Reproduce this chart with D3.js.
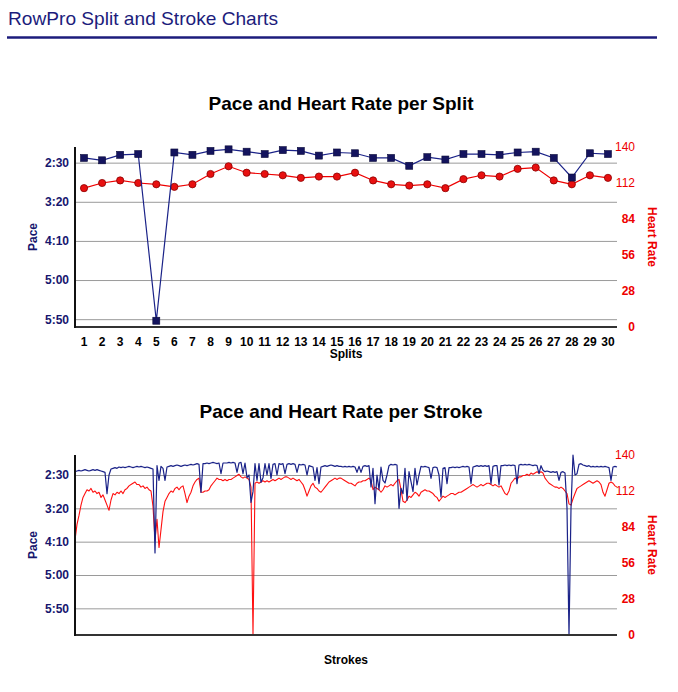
<!DOCTYPE html>
<html>
<head>
<meta charset="utf-8">
<script src="https://cdn.jsdelivr.net/npm/d3@7"></script>
<style>
  html, body { margin: 0; padding: 0; background: #fff; }
  svg { display: block; font-family: "Liberation Sans", Arial, Helvetica, sans-serif; }
</style>
</head>
<body>
<svg id="chart" width="678" height="692"></svg>
<script>
// ---------- DATA ----------
const pageTitle = "RowPro Split and Stroke Charts";
const splitTitle = "Pace and Heart Rate per Split";
const strokeTitle = "Pace and Heart Rate per Stroke";

const splits = d3.range(1, 31);
// pace per split, seconds per 500m
const splitPace = [144, 147, 140, 139, 352, 137, 140, 135, 133, 136,
                   139, 134, 135, 141, 137, 138, 144, 144, 154, 143,
                   146, 139, 139, 140, 137, 136, 144, 169, 138, 139];
// heart rate per split, bpm
const splitHR = [108, 112, 114, 112, 111, 109, 111, 119, 125, 120,
                 119, 118, 116, 117, 117, 120, 114, 111, 110, 111,
                 108, 115, 118, 117, 123, 124, 114, 111, 118, 116];

// pace per stroke, seconds per 500m
const strokePace = [
  145,144,143,144,143,142,143,144,143,142,
  143,142,143,144,145,146,178,150,141,140,
  139,140,138,139,138,139,138,137,138,139,
  138,137,138,137,138,139,138,139,140,141,
  267,136,158,137,140,158,138,137,136,137,
  136,135,136,137,136,135,136,135,134,135,
  134,133,134,176,133,133,132,133,132,131,
  132,133,132,148,132,132,132,131,132,131,
  132,146,132,131,148,132,154,150,191,175,
  133,158,133,161,154,133,150,133,155,134,
  133,150,133,134,133,148,134,133,134,133,
  134,146,134,135,134,135,150,136,137,138,
  158,139,163,138,137,136,137,136,135,136,
  137,136,137,137,138,137,138,137,138,137,
  138,146,137,146,137,136,137,136,168,140,
  193,150,172,138,158,162,150,136,134,135,
  134,135,200,170,178,140,188,145,160,175,
  140,165,150,137,138,137,138,139,155,139,
  138,139,150,183,140,139,163,139,139,138,
  139,138,139,138,137,138,137,138,163,138,
  137,136,137,136,137,136,137,136,163,137,
  136,136,165,136,136,135,136,135,136,135,
  136,163,135,134,135,134,135,134,135,136,
  135,136,148,136,143,145,144,145,146,145,
  146,145,158,146,145,147,200,390,200,120,
  150,148,134,133,135,136,137,136,138,137,
  138,137,138,137,138,137,138,139,158,138,
  137,138
];
// heart rate per stroke, bpm
const strokeHR = [
  74,86,93,101,107,110,113,112,114,111,
  112,110,111,107,109,105,101,97,105,110,
  109,111,110,112,110,113,114,116,117,118,
  119,117,117,115,116,114,115,113,112,100,
  74,90,68,82,96,104,107,110,112,111,
  114,115,113,115,116,110,103,108,111,116,
  119,121,122,111,111,112,112,113,116,118,
  120,122,121,121,120,121,120,121,121,122,
  123,124,125,123,122,123,122,121,115,0,
  118,119,118,119,120,119,120,119,120,121,
  120,121,122,121,122,123,123,122,121,122,
  121,120,121,119,117,113,108,112,116,118,
  115,114,112,111,113,115,117,119,120,121,
  122,121,122,122,121,120,119,118,118,117,
  116,118,119,119,120,120,121,122,120,113,
  115,114,113,111,113,116,115,116,117,116,
  118,120,121,113,104,103,105,108,107,109,
  111,110,108,111,112,113,112,112,111,110,
  108,107,104,106,108,107,108,109,110,110,
  109,110,111,111,112,113,114,115,116,117,
  116,115,116,117,116,117,118,118,117,116,
  117,116,115,116,113,110,109,112,118,120,
  122,121,123,123,124,124,125,124,126,125,
  126,127,126,127,126,122,120,118,117,116,
  115,115,114,115,114,112,110,102,101,106,
  110,114,115,116,117,118,119,120,119,118,
  119,120,119,117,111,108,113,118,119,118,
  116,115
];

const paceTicks = [150, 200, 250, 300, 350];
const paceTickLabels = ["2:30", "3:20", "4:10", "5:00", "5:50"];
const hrTicks = [0, 28, 56, 84, 112, 140];
const splitPaceDomain = [130, 360];
const hrDomain = [0, 140];

// ---------- STYLE ----------
const NAVY = "#16166e";
const PACE_LINE = "#1a2288";
const RED = "#ee0000";
const svg = d3.select("#chart");

// page header
svg.append("text").attr("x", 8).attr("y", 25)
  .attr("font-size", 19).attr("fill", "#1c1c7c")
  .attr("textLength", 270).attr("lengthAdjust", "spacingAndGlyphs")
  .text(pageTitle);
svg.append("line").attr("x1", 7).attr("x2", 657).attr("y1", 37.5).attr("y2", 37.5)
  .attr("stroke", "#1c1c7c").attr("stroke-width", 2.5);

function frame(g, pace, hr, x0, x1, y0, y1, title, titleY, xLabel, xLabelY) {
  g.append("text").attr("x", 341).attr("y", titleY).attr("text-anchor", "middle")
    .attr("font-size", 19).attr("font-weight", "bold").attr("fill", "#000").text(title);

  const grid = g.append("g").attr("transform", `translate(${x0},0)`)
    .call(d3.axisLeft(pace).tickValues(paceTicks).tickSize(-(x1 - x0)).tickFormat(""));
  grid.select(".domain").remove();
  grid.selectAll(".tick line").attr("stroke", "#9a9a9a").attr("stroke-width", 1);

  const la = g.append("g").attr("transform", `translate(${x0},0)`)
    .call(d3.axisLeft(pace).tickValues(paceTicks).tickSize(0).tickPadding(6)
      .tickFormat((d, i) => paceTickLabels[i]));
  la.select(".domain").remove();
  la.selectAll("text").attr("font-size", 12).attr("font-weight", "bold")
    .attr("fill", NAVY).attr("font-family", "Liberation Sans, Arial, sans-serif");

  const ra = g.append("g").attr("transform", `translate(${x1},0)`)
    .call(d3.axisRight(hr).tickValues(hrTicks).tickSize(0).tickFormat(d3.format("d")));
  ra.select(".domain").remove();
  ra.selectAll("text").attr("x", 18).attr("text-anchor", "end")
    .attr("font-size", 12).attr("fill", RED)
    .attr("font-weight", d => d >= 112 ? "normal" : "bold")
    .attr("font-family", "Liberation Sans, Arial, sans-serif");

  const cy = (y0 + y1) / 2;
  g.append("text").attr("transform", `translate(37,${cy}) rotate(-90)`)
    .attr("text-anchor", "middle").attr("font-size", 12).attr("font-weight", "bold")
    .attr("fill", NAVY).text("Pace");
  g.append("text").attr("transform", `translate(648,${cy}) rotate(90)`)
    .attr("text-anchor", "middle").attr("font-size", 12).attr("font-weight", "bold")
    .attr("fill", RED).text("Heart Rate");
  g.append("text").attr("x", 346).attr("y", xLabelY).attr("text-anchor", "middle")
    .attr("font-size", 12).attr("font-weight", "bold").attr("fill", "#000").text(xLabel);
}

function axisLines(g, x0, x1, y0, y1) {
  g.append("line").attr("x1", x0).attr("x2", x1).attr("y1", y1).attr("y2", y1)
    .attr("stroke", "#333").attr("stroke-width", 2);
  g.append("line").attr("x1", x0).attr("x2", x0).attr("y1", y0).attr("y2", y1 + 1)
    .attr("stroke", "#111").attr("stroke-width", 2);
}

// ---------- SPLIT CHART ----------
{
  const x0 = 75, x1 = 617, y0 = 147, y1 = 327;
  const g = svg.append("g");
  const x = d3.scaleBand().domain(splits).range([x0, x1]);
  const pace = d3.scaleLinear().domain(splitPaceDomain).range([y0, y1]);
  const hr = d3.scaleLinear().domain(hrDomain).range([y1, y0]);
  const cx = d => x(d) + x.bandwidth() / 2;

  frame(g, pace, hr, x0, x1, y0, y1, splitTitle, 110, "Splits", 358);

  const xa = g.append("g").attr("transform", `translate(0,${y1})`)
    .call(d3.axisBottom(x).tickSize(0).tickPadding(10));
  xa.select(".domain").remove();
  xa.selectAll("text").attr("font-size", 12).attr("font-weight", "bold").attr("fill", "#000")
    .attr("font-family", "Liberation Sans, Arial, sans-serif");

  g.append("path").datum(splitHR)
    .attr("d", d3.line().x((d, i) => cx(splits[i])).y(d => hr(d)))
    .attr("fill", "none").attr("stroke", RED).attr("stroke-width", 1.2);
  g.selectAll(".hrdot").data(splitHR).join("circle")
    .attr("cx", (d, i) => cx(splits[i])).attr("cy", d => hr(d)).attr("r", 3.6)
    .attr("fill", "#e81010").attr("stroke", "#8a0000").attr("stroke-width", 0.8);

  g.append("path").datum(splitPace)
    .attr("d", d3.line().x((d, i) => cx(splits[i])).y(d => pace(d)))
    .attr("fill", "none").attr("stroke", PACE_LINE).attr("stroke-width", 1.2);
  g.selectAll(".pdot").data(splitPace).join("rect")
    .attr("x", (d, i) => cx(splits[i]) - 3.5).attr("y", d => pace(d) - 3.5)
    .attr("width", 7).attr("height", 7)
    .attr("fill", "#14145e").attr("stroke", "#0a0a3a").attr("stroke-width", 0.6);

  axisLines(g, x0, x1, y0, y1);
}

// ---------- STROKE CHART ----------
{
  const x0 = 75, x1 = 617, y0 = 455, y1 = 635;
  const g = svg.append("g");
  const x = d3.scaleLinear().domain([0, strokePace.length - 1]).range([x0, x1]);
  const pace = d3.scaleLinear().domain(d3.extent(strokePace)).range([y0, y1]);
  const hr = d3.scaleLinear().domain(hrDomain).range([y1, y0]);

  frame(g, pace, hr, x0, x1, y0, y1, strokeTitle, 418, "Strokes", 664);

  g.append("path").datum(strokeHR)
    .attr("d", d3.line().x((d, i) => x(i)).y(d => hr(d)))
    .attr("fill", "none").attr("stroke", "#ff1010").attr("stroke-width", 1.1)
    .attr("stroke-linejoin", "round");
  g.append("path").datum(strokePace)
    .attr("d", d3.line().x((d, i) => x(i)).y(d => pace(d)))
    .attr("fill", "none").attr("stroke", PACE_LINE).attr("stroke-width", 1.2)
    .attr("stroke-linejoin", "round");

  axisLines(g, x0, x1, y0, y1);
}
</script>
</body>
</html>
